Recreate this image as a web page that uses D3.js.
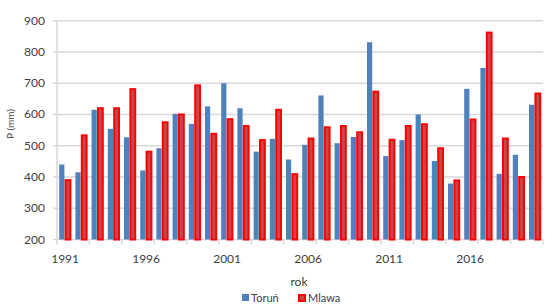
<!DOCTYPE html>
<html>
<head>
<meta charset="utf-8">
<script src="https://cdn.jsdelivr.net/npm/d3@7"></script>
<style>
  body { margin: 0; background: #fff; }
  text { font-family: Lato, "Liberation Sans", sans-serif; }
</style>
</head>
<body>
<div class="chart"></div>
<script>
// data
const years = d3.range(1991, 2021).map(String);
const torun = [440, 415, 615, 554, 527, 421, 492, 602, 570, 626,
               700, 620, 481, 522, 456, 503, 661, 508, 528, 831,
               467, 518, 600, 451, 379, 682, 749, 410, 471, 631];
const mlawa = [390, 533, 620, 620, 681, 481, 575, 600, 693, 538,
               585, 563, 518, 615, 409, 523, 559, 563, 543, 673,
               519, 563, 569, 492, 389, 584, 862, 523, 400, 667];
const yTicks = [200, 300, 400, 500, 600, 700, 800, 900];
const yearLabels = ["1991", "1996", "2001", "2006", "2011", "2016"];

const w = 545, h = 308;
const plotLeft = 57, plotRight = 543, plotTop = 20.7, plotBottom = 239.5;

const svg = d3.select(".chart").append("svg")
  .attr("width", w)
  .attr("height", h);

const x = d3.scaleBand().domain(years).range([plotLeft, plotRight]).paddingInner(0).paddingOuter(0);
const y = d3.scaleLinear().domain([200, 900]).range([plotBottom, plotTop]);

const bw = x.bandwidth();
const barW = 5.2;

// gridlines + y ticks
svg.append("g")
  .selectAll("line")
  .data(yTicks)
  .enter()
  .append("line")
  .attr("x1", plotLeft - 4)
  .attr("x2", plotRight)
  .attr("y1", d => y(d))
  .attr("y2", d => y(d))
  .attr("stroke", "#d9d9d9")
  .attr("stroke-width", 1.5);

// y labels
svg.append("g")
  .selectAll("text")
  .data(yTicks)
  .enter()
  .append("text")
  .attr("x", 45)
  .attr("y", d => y(d) + 4)
  .attr("text-anchor", "end")
  .attr("font-size", 12)
  .attr("fill", "#404040")
  .text(d => d);

// y axis line
svg.append("line")
  .attr("x1", plotLeft).attr("x2", plotLeft)
  .attr("y1", plotTop).attr("y2", plotBottom)
  .attr("stroke", "#d9d9d9").attr("stroke-width", 1.5);

// x tick marks every 2 categories
svg.append("g")
  .selectAll("line")
  .data(years.filter((d, i) => i % 2 === 0).concat(["end"]))
  .enter()
  .append("line")
  .attr("x1", d => d === "end" ? plotRight : x(d))
  .attr("x2", d => d === "end" ? plotRight : x(d))
  .attr("y1", plotBottom)
  .attr("y2", plotBottom + 5)
  .attr("stroke", "#d9d9d9")
  .attr("stroke-width", 1.5);

// bars
svg.append("g")
  .selectAll("rect")
  .data(torun)
  .enter()
  .append("rect")
  .attr("x", (d, i) => x(years[i]) + 2.2)
  .attr("y", d => y(d))
  .attr("width", barW)
  .attr("height", d => plotBottom - y(d))
  .attr("fill", "#4f81bd");

svg.append("g")
  .selectAll("rect")
  .data(mlawa)
  .enter()
  .append("rect")
  .attr("x", (d, i) => x(years[i]) + 2.2 + barW + 1.2)
  .attr("y", d => y(d))
  .attr("width", barW - 0.4)
  .attr("height", d => plotBottom - y(d))
  .attr("fill", "#c84848")
  .attr("stroke", "#ff0000")
  .attr("stroke-width", 2);

// x labels
svg.append("g")
  .selectAll("text")
  .data(yearLabels)
  .enter()
  .append("text")
  .attr("x", d => x(d) + bw / 2)
  .attr("y", 263)
  .attr("text-anchor", "middle")
  .attr("font-size", 12)
  .attr("fill", "#404040")
  .text(d => d);

// axis titles
svg.append("text")
  .attr("x", 299).attr("y", 286)
  .attr("text-anchor", "middle")
  .attr("font-size", 12)
  .attr("fill", "#404040")
  .text("rok");

svg.append("text")
  .attr("transform", "translate(14,124) rotate(-90)")
  .attr("text-anchor", "middle")
  .attr("font-size", 10)
  .attr("fill", "#404040")
  .text("P (mm)");

// legend
const legend = svg.append("g").attr("transform", "translate(242,298)");
legend.append("rect").attr("x", 0).attr("y", -4).attr("width", 7).attr("height", 7).attr("fill", "#4f81bd");
legend.append("text").attr("x", 9).attr("y", 3.5).attr("font-size", 11).attr("fill", "#404040").text("Toruń");
legend.append("rect").attr("x", 57).attr("y", -3).attr("width", 6).attr("height", 6)
  .attr("fill", "#c84848").attr("stroke", "#ff0000").attr("stroke-width", 2);
legend.append("text").attr("x", 66).attr("y", 3.5).attr("font-size", 11).attr("fill", "#404040").text("Mlawa");
</script>
</body>
</html>
